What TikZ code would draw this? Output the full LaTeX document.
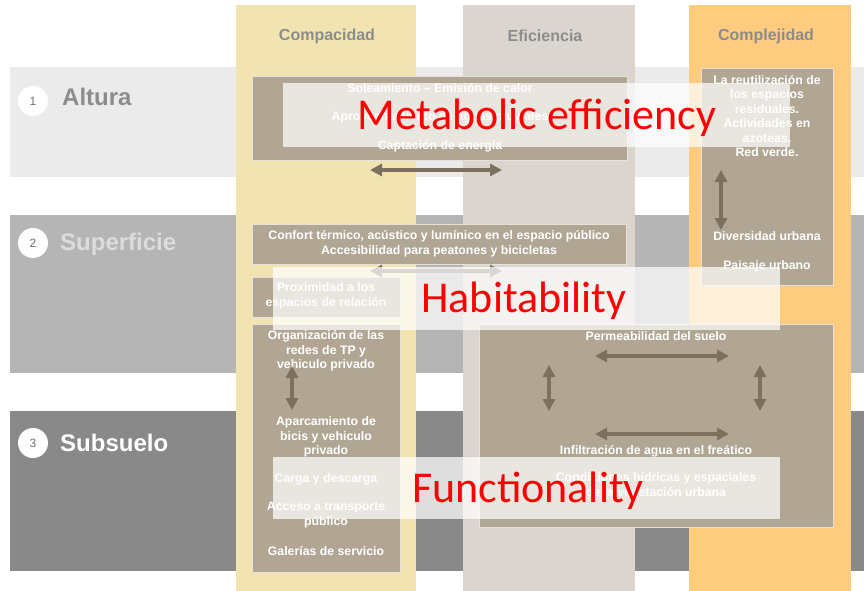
\documentclass[tikz,border=0pt]{standalone}
\usepackage{fontspec}
\setmainfont{Liberation Sans}
\newfontfamily\calib{Carlito}
\usetikzlibrary{arrows.meta}
\definecolor{bandone}{HTML}{EBEBEB}
\definecolor{bandtwo}{HTML}{B5B5B5}
\definecolor{bandthree}{HTML}{898989}
\definecolor{colcomp}{HTML}{F2E4B0}
\definecolor{colefi}{HTML}{DAD6CF}
\definecolor{colcplx}{HTML}{FECB7F}
\definecolor{taupe}{HTML}{B1A693}
\definecolor{boxedge}{HTML}{E6E2DA}
\definecolor{arrowc}{HTML}{7C705F}
\definecolor{titlegray}{HTML}{8C8C8C}
\definecolor{numgray}{HTML}{6E6E6E}
\definecolor{suplabel}{HTML}{DCDCDC}
\definecolor{redtxt}{HTML}{FF0000}
\tikzset{
  boxtxt/.style={text=white, font=\bfseries\fontsize{12.3}{14.5}\selectfont, align=center, inner sep=0pt},
  coltitle/.style={text=titlegray, font=\bfseries\fontsize{16}{18}\selectfont, inner sep=0pt},
  rowlabel/.style={font=\bfseries\fontsize{24}{27}\selectfont, anchor=west, inner sep=0pt},
  numcirc/.style={circle, fill=white, minimum size=30pt, inner sep=0pt, text=numgray, font=\fontsize{12}{14}\selectfont},
  dblarrow/.style={{Triangle[length=12pt,width=12pt]}-{Triangle[length=12pt,width=12pt]}, line width=3.2pt, draw=arrowc},
  veil/.style={fill=white, fill opacity=0.72},
  bigred/.style={text=redtxt, font=\calib\fontsize{44}{50}\selectfont, anchor=base, inner sep=0pt},
  tbox/.style={fill=taupe, draw=boxedge, line width=0.8pt}
}
\begin{document}
\begin{tikzpicture}[x=1pt,y=-1pt]
\useasboundingbox (0,0) rectangle (864,591);
% bands
\fill[bandone] (10,67) rectangle (864,177);
\fill[bandtwo] (10,215) rectangle (864,373);
\fill[bandthree] (10,411) rectangle (864,571);
% columns
\fill[colcomp] (236,5) rectangle (416,591);
\fill[colefi] (463,5) rectangle (635,591);
\fill[colcplx] (689,5) rectangle (851,591);
\node[coltitle] (tcomp) at (327,36) {Compacidad};
\node[coltitle] (tefi) at (545,36) {Eficiencia};
\node[coltitle] (tcplx) at (766,36) {Complejidad};
% row labels
\node[numcirc] (n1) at (33,101) {1};
\node[rowlabel, text=titlegray] (l1) at (62,97) {Altura};
\node[numcirc] (n2) at (33,243) {2};
\node[rowlabel, text=suplabel] (l2) at (60,244) {Superficie};
\node[numcirc] (n3) at (33,443) {3};
\node[rowlabel, text=white] (l3) at (60,443) {Subsuelo};
% boxes
\path[tbox] (252,76) rectangle (627,160);
\path[tbox] (701,68) rectangle (833,285);
\path[tbox] (252,224) rectangle (626,264);
\path[tbox] (252,277) rectangle (400,317);
\path[tbox] (252,324) rectangle (400,572);
\path[tbox] (479,324) rectangle (833,527);
% box texts
\node[boxtxt] (sol) at (440,88) {Soleamiento – Emisión de calor};
\node[boxtxt] (agu) at (440,117) {Aprovechamiento de aguas pluviales};
\node[boxtxt] (cap) at (440,146) {Captación de energía};
\node[boxtxt] (reu) at (767,116) {La reutilización de\\los espacios\\residuales.\\Actividades en\\azoteas.\\Red verde.};
\node[boxtxt] (div) at (767,236) {Diversidad urbana};
\node[boxtxt] (pai) at (767,266) {Paisaje urbano};
\node[boxtxt] (conf) at (439,244) {Confort térmico, acústico y lumínico en el espacio público\\Accesibilidad para peatones y bicicletas};
\node[boxtxt] (prox) at (326,296) {Proximidad a los\\espacios de relación};
\node[boxtxt] (org) at (326,351) {Organización de las\\redes de TP y\\vehiculo privado};
\node[boxtxt] (apar) at (326,437) {Aparcamiento de\\bicis y vehiculo\\privado};
\node[boxtxt] (carg) at (326,479) {Carga y descarga};
\node[boxtxt] (acc) at (326,515) {Acceso a transporte\\público};
\node[boxtxt] (gal) at (326,551) {Galerías de servicio};
\node[boxtxt] (perm) at (656,336) {Permeabilidad del suelo};
\node[boxtxt] (infi) at (656,451) {Infiltración de agua en el freático};
\node[boxtxt] (cond) at (656,486) {Condiciones hídricas y espaciales\\de la vegetación urbana};
% arrow end points
\coordinate (a1l) at (370,170); \coordinate (a1r) at (502,170);
\coordinate (a2t) at (721,170); \coordinate (a2b) at (721,230);
\coordinate (a3l) at (370,271); \coordinate (a3r) at (502,271);
\coordinate (a4t) at (292,366); \coordinate (a4b) at (292,410);
\coordinate (a5l) at (595,356); \coordinate (a5r) at (729,356);
\coordinate (a6t) at (549,365); \coordinate (a6b) at (549,411);
\coordinate (a7t) at (760,365); \coordinate (a7b) at (760,411);
\coordinate (a8l) at (595,434); \coordinate (a8r) at (729,434);
\draw[dblarrow] (a1l) -- (a1r);
\draw[dblarrow] (a2t) -- (a2b);
\draw[dblarrow] (a3l) -- (a3r);
\draw[dblarrow] (a4t) -- (a4b);
\draw[dblarrow] (a5l) -- (a5r);
\draw[dblarrow] (a6t) -- (a6b);
\draw[dblarrow] (a7t) -- (a7b);
\draw[dblarrow] (a8l) -- (a8r);
% veils
\fill[veil] (283,83) rectangle (790,147);
\fill[veil] (273,267) rectangle (780,330);
\fill[veil] (273,457) rectangle (780,519);
\node[bigred] (meta) at (537,129) {Metabolic efficiency};
\node[bigred] (habi) at (524,312) {Habitability};
\node[bigred] (func) at (528,502) {Functionality};
\end{tikzpicture}
\end{document}
